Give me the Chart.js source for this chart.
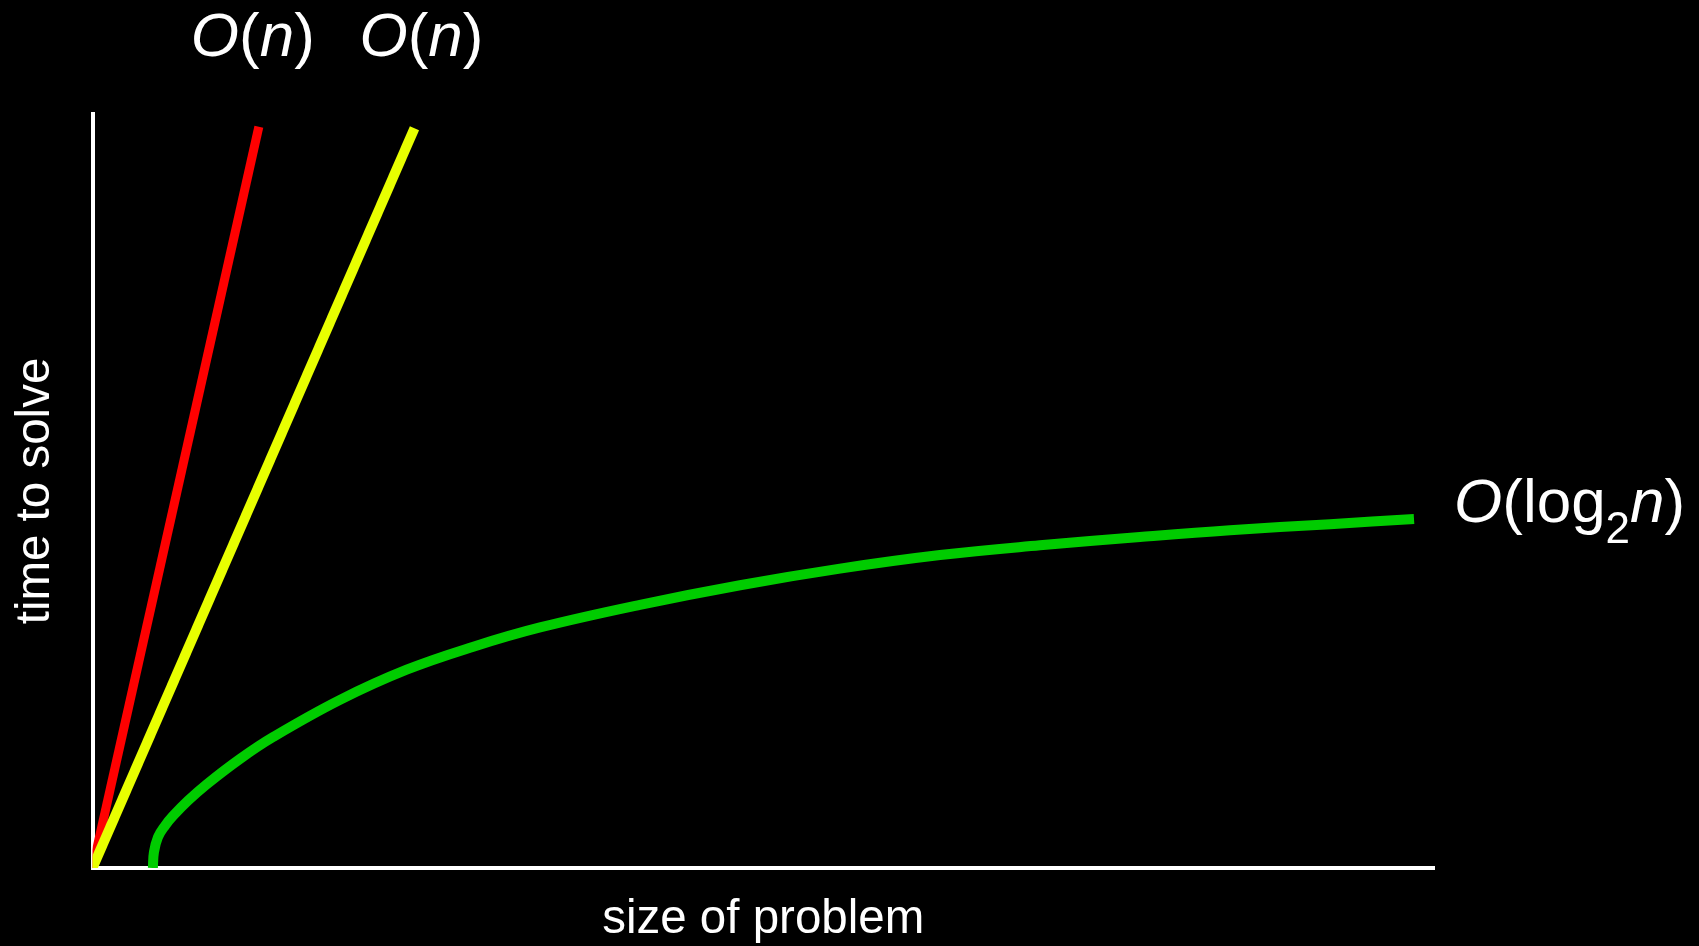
<!DOCTYPE html>
<html>
<head>
<meta charset="utf-8">
<title>Growth of running time</title>
<script src="https://cdn.jsdelivr.net/npm/chart.js@4.4.1/dist/chart.umd.min.js"></script>
<style>
  html, body { margin: 0; padding: 0; background: #000; }
  #wrap { width: 1699px; height: 946px; position: relative; }
</style>
</head>
<body>
<div id="wrap"><canvas id="myChart"></canvas></div>
<script>
// size of problem (x) and time to solve (y), both in 0..100 units
var redX = [0, 12.4];
var redY = [0, 98.3];
var yellowX = [0, 24.0];
var yellowY = [0, 98.1];
var greenX = [4.5, 4.58, 4.88, 5.4, 6.0, 7.12, 8.51, 11.0, 13.46, 18.45, 23.42, 28.39, 33.36, 40.81, 48.27, 55.72, 63.18, 70.63, 78.08, 84.79, 92.25, 98.51];
var greenY = [0, 2.1, 4.1, 5.6, 6.9, 8.93, 11.1, 14.48, 17.37, 22.3, 26.3, 29.35, 31.9, 34.9, 37.5, 39.7, 41.5, 42.8, 43.9, 44.8, 45.6, 46.3];

var xTitle = "size of problem";
var yTitle = "time to solve";

function pts(xs, ys) {
  return xs.map(function (x, i) { return { x: x, y: ys[i] }; });
}

var FONT = "'Liberation Sans', Arial, Helvetica, sans-serif";

// big-O labels, drawn next to the end of each curve
var labelPlugin = {
  id: "bigO",
  afterDraw: function (chart) {
    var ctx = chart.ctx;
    var xs = chart.scales.x, ys = chart.scales.y;
    var labels = [
      { ds: 1, dx: -68, dy: -71, parts: [["O", "i"], ["(", "n"], ["n", "i"], [")", "n"]] },
      { ds: 0, dx: -55, dy: -72, parts: [["O", "i"], ["(", "n"], ["n", "i"], [")", "n"]] },
      { ds: 2, dx: 40, dy: 3, parts: [["O", "i"], ["(log", "n"], ["2", "s"], ["n", "i"], [")", "n"]] }
    ];
    ctx.save();
    ctx.fillStyle = "#fff";
    ctx.textBaseline = "alphabetic";
    ctx.textAlign = "left";
    labels.forEach(function (lb) {
      var data = chart.data.datasets[lb.ds].data;
      var last = data[data.length - 1];
      var x = xs.getPixelForValue(last.x) + lb.dx;
      var y = ys.getPixelForValue(last.y) + lb.dy;
      lb.parts.forEach(function (p) {
        var yy = y;
        if (p[1] == "i") ctx.font = "italic 62px " + FONT;
        else if (p[1] == "s") { ctx.font = "44px " + FONT; yy = y + 21; }
        else ctx.font = "62px " + FONT;
        ctx.fillText(p[0], x, yy);
        x += ctx.measureText(p[0]).width;
      });
    });
    ctx.restore();
  }
};

const ctx = document.getElementById("myChart").getContext("2d");
var myChart = new Chart(ctx, {
  type: "line",
  data: {
    datasets: [
      {
        label: "O(n) yellow",
        data: pts(yellowX, yellowY),
        borderColor: "#e8ff00",
        borderWidth: 10,
        pointRadius: 0,
      },
      {
        label: "O(n) red",
        data: pts(redX, redY),
        borderColor: "#ff0000",
        borderWidth: 9,
        pointRadius: 0,
      },
      {
        label: "O(log2 n)",
        data: pts(greenX, greenY),
        borderColor: "#00cc00",
        borderWidth: 10,
        pointRadius: 0,
        tension: 0.4,
      },
    ],
  },
  options: {
    responsive: true,
    maintainAspectRatio: false,
    animation: false,
    layout: { padding: { left: 0, top: 114, right: 265, bottom: 0 } },
    plugins: {
      legend: { display: false },
      tooltip: { enabled: false },
    },
    scales: {
      x: {
        type: "linear",
        min: 0,
        max: 100,
        ticks: { display: false },
        grid: { display: false, drawTicks: false },
        border: { display: true, color: "#fff", width: 4 },
        title: {
          display: true,
          text: xTitle,
          color: "#fff",
          font: { family: FONT, size: 47.5, lineHeight: 1 },
          padding: { top: 27.75, bottom: 2.75 },
        },
      },
      y: {
        type: "linear",
        min: 0,
        max: 100,
        ticks: { display: false },
        grid: { display: false, drawTicks: false },
        border: { display: true, color: "#fff", width: 4 },
        title: {
          display: true,
          text: yTitle,
          color: "#fff",
          font: { family: FONT, size: 47.5, lineHeight: 1 },
          padding: { top: 11.75, bottom: 33.25 },
        },
      },
    },
  },
  plugins: [labelPlugin],
});
</script>
</body>
</html>
